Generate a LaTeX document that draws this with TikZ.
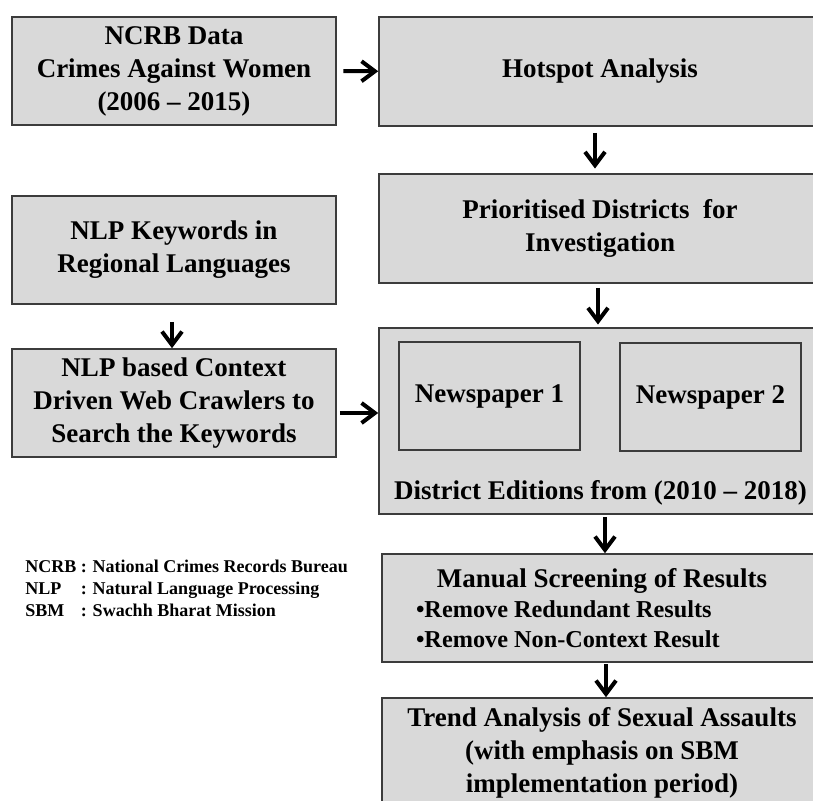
\documentclass[tikz,border=0pt]{standalone}
\usepackage{fontspec}
\setmainfont{Liberation Serif}
\usepackage{xcolor}
\usetikzlibrary{arrows.meta,positioning,shadows}
\definecolor{boxfill}{HTML}{D9D9D9}
\definecolor{boxline}{HTML}{3C3C3C}

\begin{document}
\begin{tikzpicture}[x=0.75pt,y=-0.75pt,
  box/.style={draw=boxline,line width=1.2pt,fill=boxfill,align=center,inner sep=0pt,
    font=\fontsize{20.25pt}{24.75pt}\selectfont\bfseries,
    drop shadow={shadow xshift=0.8pt,shadow yshift=-0.8pt,opacity=0.35}},
  flow/.style={line width=3pt,-{Straight Barb[length=10pt,width=15pt,line width=3pt]}}]
\useasboundingbox (0,0) rectangle (813,800);
\clip (0,0) rectangle (813,800);
% left column
\node[box,minimum width=243pt,minimum height=81pt] (ncrb) at (174,71) {NCRB Data\\Crimes Against Women\\(2006 -- 2015)};
\node[box,minimum width=243pt,minimum height=81pt] (keywords) at (174,250) {NLP Keywords in\\Regional Languages};
\node[box,minimum width=243pt,minimum height=81pt] (crawler) at (174,403) {NLP based Context\\Driven Web Crawlers to\\Search the Keywords};
% right column
\node[box,minimum width=331.5pt,minimum height=81.75pt] (hotspot) at (600,71.5) {Hotspot Analysis};
\node[box,minimum width=331.5pt,minimum height=81.75pt] (prio) at (600,228.5) {Prioritised Districts\ \ for\\Investigation};
\node[box,minimum width=331.5pt,minimum height=139.5pt] (editions) at (600,421) {};
\node[box,minimum width=135.75pt,minimum height=81pt] (paper1) at (489.5,396) {Newspaper 1};
\node[box,minimum width=135.75pt,minimum height=81pt] (paper2) at (710.5,397) {Newspaper 2};
\node[font=\fontsize{20.25pt}{24.75pt}\selectfont\bfseries,inner sep=0pt] (editionstext) at (600.5,493) {District Editions from (2010 -- 2018)};
\node[box,minimum width=330pt,minimum height=81pt,text width=279pt,align=none] (screening) at (602,608)
  {{\centering Manual Screening of Results\par}
   {\raggedright\fontsize{18.2pt}{22.5pt}\selectfont •Remove Redundant Results\\•Remove Non-Context Result\par}};
\node[box,minimum width=330pt,minimum height=82.5pt] (trend) at (602,753) {Trend Analysis of Sexual Assaults\\(with emphasis on SBM\\implementation period)};
% abbreviations
\node[anchor=west,inner sep=0pt,font=\fontsize{13.5pt}{16.5pt}\selectfont\bfseries] (legend) at (25,590)
  {\begin{tabular}{@{}l@{ }l@{}}NCRB&: National Crimes Records Bureau\\NLP&: Natural Language Processing\\SBM&: Swachh Bharat Mission\end{tabular}};
% arrows
\draw[flow,shorten <=5pt] (ncrb) -- (hotspot);
\draw[flow,shorten <=4.5pt,shorten >=3.5pt] ([xshift=-3.75pt]hotspot.south) -- ([xshift=-3.75pt]prio.north);
\draw[flow,shorten <=3pt,shorten >=2pt] ([xshift=-1.5pt]prio.south) -- ([xshift=-1.5pt]editions.north);
\draw[flow,shorten <=12.75pt] ([xshift=-1.5pt]keywords.south) -- ([xshift=-1.5pt]crawler.north);
\draw[flow,shorten <=2.25pt] ([yshift=-7.5pt]crawler.east) -- ([yshift=-7.5pt]crawler.east -| editions.west);
\draw[flow,shorten <=1.5pt] ([xshift=3.75pt]editions.south) -- ([xshift=3.75pt]editions.south |- screening.north);
\draw[flow,shorten <=1pt] ([xshift=3pt]screening.south) -- ([xshift=3pt]trend.north);
\end{tikzpicture}
\end{document}
